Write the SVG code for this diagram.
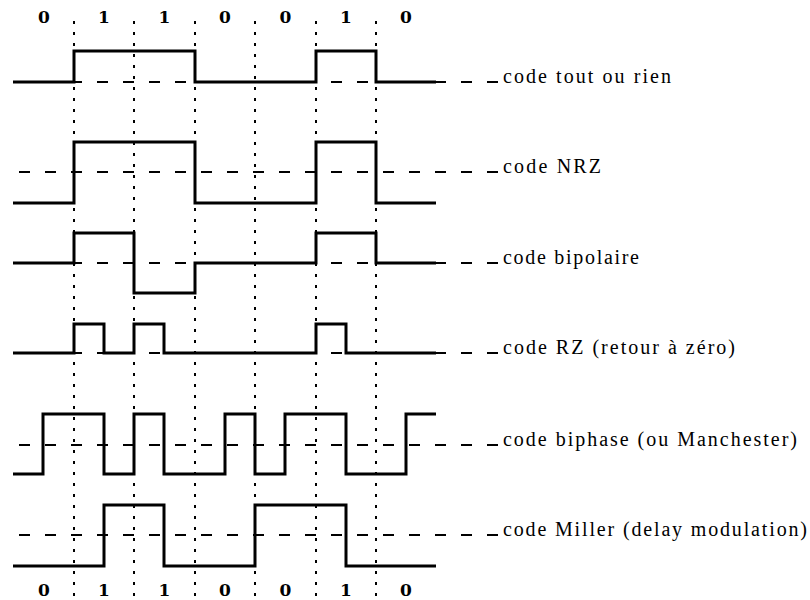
<svg xmlns="http://www.w3.org/2000/svg" width="810" height="600" viewBox="0 0 810 600">
<style>
.sig{fill:none;stroke:#000;stroke-width:3;stroke-linejoin:miter;stroke-linecap:butt}
.ref{fill:none;stroke:#000;stroke-width:2;stroke-dasharray:11 15}
.grid{fill:none;stroke:#000;stroke-width:2;stroke-dasharray:3 8}
</style>
<rect width="810" height="600" fill="#fff"/>
<g id="grid">
<path class="grid" d="M74,21V598M134,21V598M195,21V598M255,21V598M316,21V598M376,21V598"/>
</g>
<g id="bits-top" font-family="'DejaVu Serif', serif" font-size="17" font-weight="bold" text-anchor="middle" fill="#000">
<text x="44" y="23">0</text>
<text x="104" y="23">1</text>
<text x="164.5" y="23">1</text>
<text x="225" y="23">0</text>
<text x="285.5" y="23">0</text>
<text x="346" y="23">1</text>
<text x="406" y="23">0</text>
</g>
<g id="bits-bottom" font-family="'DejaVu Serif', serif" font-size="17" font-weight="bold" text-anchor="middle" fill="#000">
<text x="44" y="596">0</text>
<text x="104" y="596">1</text>
<text x="164.5" y="596">1</text>
<text x="225" y="596">0</text>
<text x="285.5" y="596">0</text>
<text x="346" y="596">1</text>
<text x="406" y="596">0</text>
</g>
<g font-family="'Liberation Serif', 'Times New Roman', serif" font-size="20" fill="#000">
<g id="tout-ou-rien">
<path class="ref" d="M498,82H13"/>
<path class="sig" d="M13,82H74V51H195V82H316V51H376V82H436"/>
<text x="503" y="83" textLength="168" lengthAdjust="spacing">code tout ou rien</text>
</g>
<g id="nrz">
<path class="ref" d="M498,172H13"/>
<path class="sig" d="M13,203H74V142H195V203H316V142H376V203H436"/>
<text x="503" y="173" textLength="98" lengthAdjust="spacing">code NRZ</text>
</g>
<g id="bipolaire">
<path class="ref" d="M498,263H13"/>
<path class="sig" d="M13,263H74V233H134V293H195V263H316V233H376V263H436"/>
<text x="503" y="264" textLength="136" lengthAdjust="spacing">code bipolaire</text>
</g>
<g id="rz">
<path class="ref" d="M498,353H13"/>
<path class="sig" d="M13,353H74V324H104V353H134V324H164V353H316V324H346V353H436"/>
<text x="503" y="354" textLength="232" lengthAdjust="spacing">code RZ (retour à zéro)</text>
</g>
<g id="biphase">
<path class="ref" d="M498,445H13"/>
<path class="sig" d="M13,474H43V414H104V474H134V414H164V474H225V414H255V474H285V414H346V474H406V414H436"/>
<text x="503" y="446" textLength="294" lengthAdjust="spacing">code biphase (ou Manchester)</text>
</g>
<g id="miller">
<path class="ref" d="M498,535H13"/>
<path class="sig" d="M13,566H104V505H164V566H255V505H346V566H436"/>
<text x="503" y="536" textLength="304" lengthAdjust="spacing">code Miller (delay modulation)</text>
</g>
</g>
</svg>
